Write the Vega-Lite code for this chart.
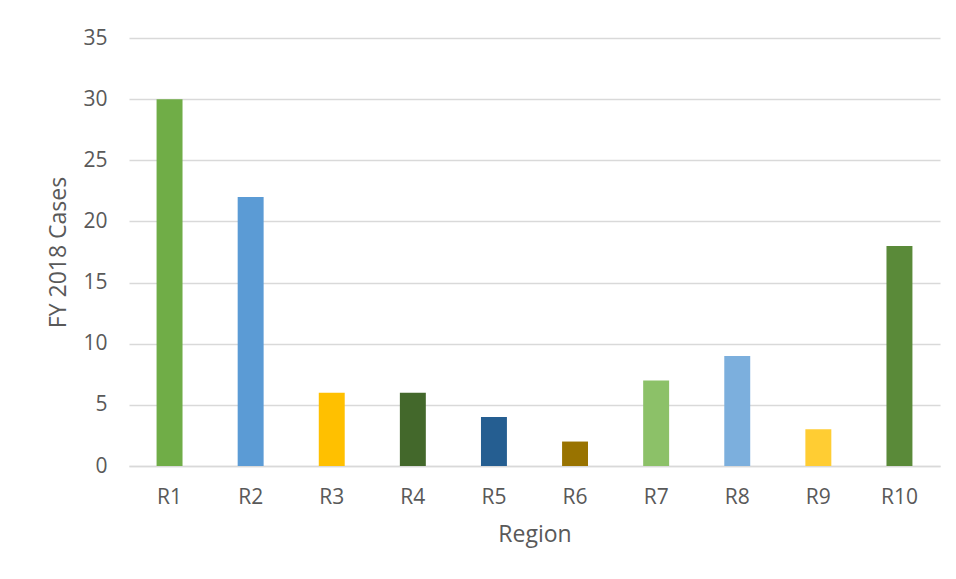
{
  "$schema": "https://vega.github.io/schema/vega-lite/v6.json",
  "width": 811,
  "height": 428,
  "autosize": {"type": "none"},
  "padding": {"left": 129, "top": 38, "right": 16, "bottom": 113},
  "background": "white",
  "config": {
    "view": {"stroke": null},
    "font": "Open Sans",
    "axis": {"labelFont": "Open Sans", "titleFont": "Open Sans", "labelColor": "#595959", "titleColor": "#595959", "labelFontSize": 21, "titleFontSize": 23, "titleFontWeight": "normal"}
  },
  "data": {
    "values": [
      {"region": "R1", "cases": 30},
      {"region": "R2", "cases": 22},
      {"region": "R3", "cases": 6},
      {"region": "R4", "cases": 6},
      {"region": "R5", "cases": 4},
      {"region": "R6", "cases": 2},
      {"region": "R7", "cases": 7},
      {"region": "R8", "cases": 9},
      {"region": "R9", "cases": 3},
      {"region": "R10", "cases": 18}
    ]
  },
  "mark": {"type": "bar"},
  "encoding": {
    "x": {
      "field": "region", "type": "nominal", "sort": null,
      "scale": {"paddingInner": 0.68, "paddingOuter": 0.34},
      "axis": {"title": "Region", "labelAngle": 0, "ticks": false, "domain": true, "domainColor": "#d9d9d9", "domainWidth": 1.5, "labelPadding": 20, "titlePadding": 16}
    },
    "y": {
      "field": "cases", "type": "quantitative",
      "scale": {"domain": [0, 35]},
      "axis": {"title": "FY 2018 Cases", "values": [0, 5, 10, 15, 20, 25, 30, 35], "ticks": false, "domain": false, "gridColor": "#d9d9d9", "gridWidth": 1.5, "labelPadding": 22, "titlePadding": 12}
    },
    "color": {
      "field": "region", "type": "nominal", "legend": null,
      "scale": {
        "domain": ["R1", "R2", "R3", "R4", "R5", "R6", "R7", "R8", "R9", "R10"],
        "range": ["#70AD47", "#5B9BD5", "#FFC000", "#43682B", "#255E91", "#997300", "#8CC168", "#7CAFDD", "#FFCD33", "#5A8A39"]
      }
    }
  }
}
